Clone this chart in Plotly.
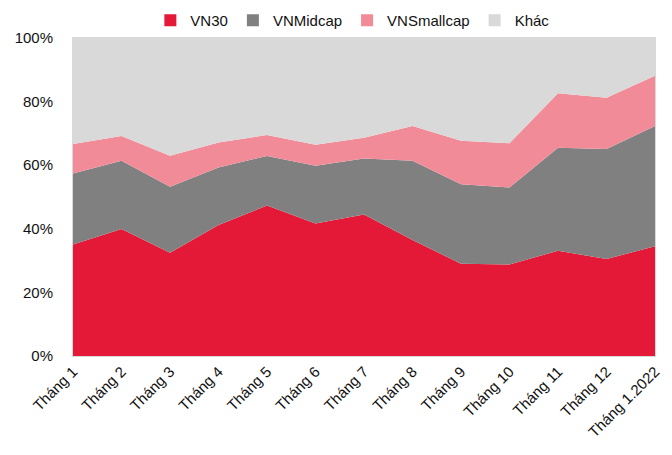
import plotly.graph_objects as go

months = ["Tháng 1", "Tháng 2", "Tháng 3", "Tháng 4", "Tháng 5", "Tháng 6", "Tháng 7",
          "Tháng 8", "Tháng 9", "Tháng 10", "Tháng 11", "Tháng 12", "Tháng 1.2022"]
vn30 = [35.1, 39.9, 32.5, 41.2, 47.3, 41.7, 44.5, 36.5, 29.0, 28.8, 33.1, 30.5, 34.5]
vnmidcap = [22.3, 21.5, 20.7, 18.1, 15.6, 18.1, 17.6, 24.9, 25.0, 24.2, 32.4, 34.6, 37.8]
vnsmallcap = [9.3, 7.8, 9.8, 7.8, 6.6, 6.6, 6.5, 10.9, 13.7, 13.9, 17.1, 16.1, 15.8]
khac = [33.3, 30.8, 37.0, 32.9, 30.5, 33.6, 31.4, 27.7, 32.3, 33.1, 17.4, 18.8, 11.9]

series = [("VN30", vn30, "#E31937"), ("VNMidcap", vnmidcap, "#808080"),
          ("VNSmallcap", vnsmallcap, "#F28B98"), ("Khác", khac, "#D9D9D9")]

FONT = "Liberation Sans Narrow, Arial Narrow, Liberation Sans, Arial, sans-serif"

fig = go.Figure()
for name, vals, col in series:
    fig.add_trace(go.Scatter(x=months, y=vals, name=name, mode="lines",
                             stackgroup="one", line=dict(width=0, color=col),
                             fillcolor=col, showlegend=False))
# legend entries with square swatches
for name, vals, col in series:
    fig.add_trace(go.Scatter(x=[None], y=[None], name=name, mode="markers",
                             marker=dict(symbol="square", size=12, color=col),
                             showlegend=True))

# page has a default 8px body margin, so size/margins compensate for it
fig.update_layout(
    width=664, height=447,
    margin=dict(l=65, r=17, t=30, b=99, autoexpand=False),
    paper_bgcolor="white", plot_bgcolor="white",
    font=dict(family=FONT, size=15, color="#111"),
    showlegend=True,
    legend=dict(orientation="h", x=0.48, xanchor="center", y=1.055, yanchor="middle",
                font=dict(size=15), itemwidth=30, traceorder="normal",
                tracegroupgap=0, borderwidth=0),
    xaxis=dict(type="category", range=[0, 12], tickangle=-45, showgrid=False,
               ticks="", showline=True, linecolor="#D9D9D9", mirror=True,
               tickfont=dict(size=15)),
    yaxis=dict(range=[0, 100], dtick=20, ticksuffix="%", showgrid=False,
               showline=True, linecolor="#D9D9D9", mirror=True, ticks="",
               ticklabelstandoff=16, tickfont=dict(size=15)),
)

fig.write_html("out.html")
